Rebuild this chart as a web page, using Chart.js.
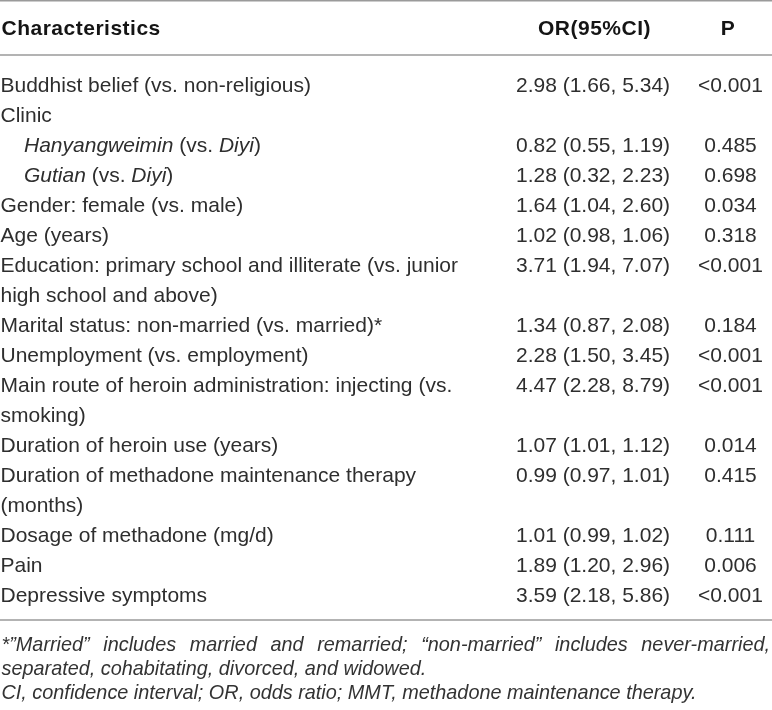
<!DOCTYPE html>
<html><head><meta charset="utf-8">
<script src="https://cdn.jsdelivr.net/npm/chart.js@4/dist/chart.umd.min.js"></script>
<style>html,body{margin:0;padding:0;background:#fff}#wrap{width:772px;height:710px}</style>
</head><body><div id="wrap"><canvas id="c" width="772" height="710"></canvas></div>
<script>
const headers = ["Characteristics", "OR(95%CI)", "P"];
const characteristics = [
  "Buddhist belief (vs. non-religious)",
  "Clinic",
  "_Hanyangweimin_ (vs. _Diyi_)",
  "_Gutian_ (vs. _Diyi_)",
  "Gender: female (vs. male)",
  "Age (years)",
  ["Education: primary school and illiterate (vs. junior", "high school and above)"],
  "Marital status: non-married (vs. married)*",
  "Unemployment (vs. employment)",
  ["Main route of heroin administration: injecting (vs.", "smoking)"],
  "Duration of heroin use (years)",
  ["Duration of methadone maintenance therapy", "(months)"],
  "Dosage of methadone (mg/d)",
  "Pain",
  "Depressive symptoms"
];
const orValues = [2.98, null, 0.82, 1.28, 1.64, 1.02, 3.71, 1.34, 2.28, 4.47, 1.07, 0.99, 1.01, 1.89, 3.59];
const ciLower  = [1.66, null, 0.55, 0.32, 1.04, 0.98, 1.94, 0.87, 1.50, 2.28, 1.01, 0.97, 0.99, 1.20, 2.18];
const ciUpper  = [5.34, null, 1.19, 2.23, 2.60, 1.06, 7.07, 2.08, 3.45, 8.79, 1.12, 1.01, 1.02, 2.96, 5.86];
const pValues  = ["<0.001", "", "0.485", "0.698", "0.034", "0.318", "<0.001", "0.184", "<0.001", "<0.001", "0.014", "0.415", "0.111", "0.006", "<0.001"];
const footnoteLines = [
  "*\u201DMarried\u201D includes married and remarried; \u201Cnon-married\u201D includes never-married,",
  "separated, cohabitating, divorced, and widowed.",
  "CI, confidence interval; OR, odds ratio; MMT, methadone maintenance therapy."
];
const justifiedFootnotes = [true, false, false];
const subRows = [2, 3];

// Build line slots for the category axis
const slotLabels = [];
const slotInfo = [];
characteristics.forEach((c, r) => {
  const lines = Array.isArray(c) ? c : [c];
  lines.forEach((t, k) => {
    slotLabels.push(t.replace(/_/g, ''));
    slotInfo.push({ row: r, first: k === 0, text: t });
  });
});

const FAMILY = '"Liberation Sans", Arial, Helvetica, sans-serif';
const BODY = '21px ' + FAMILY;
const ITAL = 'italic 21px ' + FAMILY;
const BOLD = 'bold 21px ' + FAMILY;
const NOTE = 'italic 19.85px ' + FAMILY;
const TEXT_COLOR = '#2e2e2e';
const RULE_COLOR = '#9a9a9a';

function drawRich(ctx, text, x, y) {
  const parts = text.split('_');
  let cx = x;
  parts.forEach((p, i) => {
    if (!p) return;
    ctx.font = (i % 2 === 1) ? ITAL : BODY;
    ctx.fillText(p, cx, y);
    cx += ctx.measureText(p).width;
  });
}

const tablePlugin = {
  id: 'tablePlugin',
  beforeDraw(chart) {
    const ctx = chart.ctx;
    ctx.save();
    ctx.fillStyle = '#fff';
    ctx.fillRect(0, 0, chart.width, chart.height);
    ctx.restore();
  },
  afterDraw(chart) {
    const ctx = chart.ctx;
    const xs = chart.scales.x, ys = chart.scales.y, area = chart.chartArea;
    const labelX = xs.getPixelForValue(0.5);
    const indentX = xs.getPixelForValue(24);
    const orX = xs.getPixelForValue(593);
    const pX = xs.getPixelForValue(730.5);
    const rightX = xs.getPixelForValue(770);
    ctx.save();
    ctx.textBaseline = 'alphabetic';
    // rules
    ctx.strokeStyle = RULE_COLOR;
    ctx.lineWidth = 1.5;
    [area.top - 68.5, area.top - 14.2, area.bottom + 10.8].forEach(y => {
      ctx.beginPath(); ctx.moveTo(0, y); ctx.lineTo(chart.width, y); ctx.stroke();
    });
    // header
    ctx.fillStyle = '#151515';
    ctx.font = BOLD;
    try { ctx.letterSpacing = '0.5px'; } catch (e) {}
    const hb = area.top - 34.2;
    ctx.textAlign = 'left'; ctx.fillText(headers[0], labelX + 1, hb);
    ctx.textAlign = 'center'; ctx.fillText(headers[1], orX + 1.5, hb);
    ctx.fillText(headers[2], pX - 2.5, hb);
    try { ctx.letterSpacing = '0px'; } catch (e) {}
    // body
    ctx.fillStyle = TEXT_COLOR;
    slotInfo.forEach((s, i) => {
      const b = ys.getPixelForValue(i) + 7.5;
      ctx.textAlign = 'left';
      const x = subRows.includes(s.row) ? indentX : labelX;
      drawRich(ctx, s.text, x, b);
      if (s.first) {
        ctx.font = BODY;
        ctx.textAlign = 'center';
        const r = s.row;
        if (orValues[r] !== null) {
          ctx.fillText(orValues[r].toFixed(2) + ' (' + ciLower[r].toFixed(2) + ', ' + ciUpper[r].toFixed(2) + ')', orX, b);
        }
        if (pValues[r]) ctx.fillText(pValues[r], pX, b);
      }
    });
    // footnotes
    ctx.font = NOTE;
    ctx.fillStyle = '#333';
    ctx.textAlign = 'left';
    footnoteLines.forEach((t, i) => {
      const b = area.bottom + 41.8 + 24 * i;
      if (justifiedFootnotes[i]) {
        const words = t.split(' ');
        const widths = words.map(w => ctx.measureText(w).width);
        const total = widths.reduce((a, c) => a + c, 0);
        const gap = (rightX - labelX - 1 - total) / (words.length - 1);
        let cx = labelX + 1;
        words.forEach((w, k) => { ctx.fillText(w, cx, b); cx += widths[k] + gap; });
      } else {
        ctx.fillText(t, labelX + 1, b);
      }
    });
    ctx.restore();
  }
};

new Chart(document.getElementById('c'), {
  type: 'line',
  data: { labels: slotLabels, datasets: [] },
  options: {
    responsive: false,
    animation: false,
    layout: { padding: { top: 69.2, bottom: 100.8, left: 0, right: 0 } },
    scales: {
      x: { type: 'linear', min: 0, max: 772, display: false },
      y: { type: 'category', labels: slotLabels, offset: true, display: false }
    },
    plugins: { legend: { display: false }, tooltip: { enabled: false } }
  },
  plugins: [tablePlugin]
});
</script>
</body></html>
